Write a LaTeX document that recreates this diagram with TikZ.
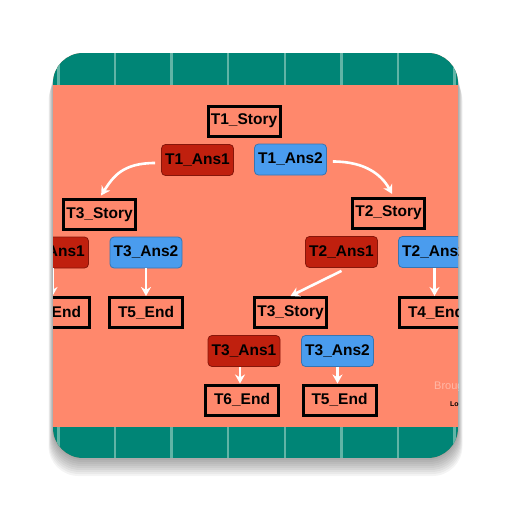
\documentclass[tikz,border=0pt]{standalone}
\usepackage{fontspec}
\setmainfont{Liberation Sans}
\usetikzlibrary{arrows.meta}

\definecolor{salmon}{RGB}{255,136,108}
\definecolor{bandteal}{RGB}{0,133,118}
\definecolor{gridteal}{RGB}{96,180,166}
\definecolor{ansred}{RGB}{192,32,14}
\definecolor{ansblue}{RGB}{74,156,238}

\begin{document}
\begin{tikzpicture}[x=1pt, y=-1pt,
  boxfont/.style={font=\fontsize{15.5}{18}\selectfont\bfseries},
  storybox/.style={boxfont, draw=black, line width=3pt, fill=salmon,
    minimum width=72pt, minimum height=30pt, inner sep=0pt},
  endbox/.style={storybox, minimum width=73pt},
  redans/.style={boxfont, draw=ansred!70!black, line width=0.8pt, fill=ansred,
    rounded corners=4pt, minimum width=72pt, minimum height=31pt, inner sep=0pt},
  blueans/.style={redans, draw=ansblue!75!black, fill=ansblue},
  flow/.style={draw=white, line width=2.6pt,
    -{Stealth[length=9pt, width=10pt]}},
  gridline/.style={draw=gridteal, line width=2.5pt}]
  \useasboundingbox (0,0) rectangle (512,512);

  % soft shadow under the icon
  \foreach \d in {1,...,9}
    \fill[black, opacity=0.045, rounded corners=30pt]
      ({53-\d/2},{53+2*\d}) rectangle ({458+\d/2},{458+2*\d});

  \begin{scope}
    \clip[rounded corners=30pt] (53,53) rectangle (458,458);
    \fill[salmon] (53,53) rectangle (458,458);
    % teal bands with light grid
    \fill[bandteal] (53,53) rectangle (458,85);
    \fill[bandteal] (53,427) rectangle (458,458);
    \foreach \gx in {0,...,7} {
      \draw[gridline] ({58.4+56.6*\gx},53) -- ++(0,32);
      \draw[gridline] ({58.4+56.6*\gx},427) -- ++(0,31);
    }

    % story tree
    \node[storybox] (t1story) at (244,121) {T1\_Story};
    \node[redans]  (t1ansA) at (197.5,160) {T1\_Ans1};
    \node[blueans] (t1ansB) at (290.5,159.5) {T1\_Ans2};

    \node[storybox] (t3storyL) at (99.5,214.5) {T3\_Story};
    \node[storybox] (t2story) at (388.5,213) {T2\_Story};

    \node[redans]  (t3ansAL) at (52.5,252.5) {T3\_Ans1};
    \node[blueans] (t3ansBL) at (146,252.5) {T3\_Ans2};
    \node[redans]  (t2ansA) at (341.5,252) {T2\_Ans1};
    \node[blueans] (t2ansB) at (434.5,252) {T2\_Ans2};

    \node[endbox] (t6endL) at (53,312.5) {T6\_End};
    \node[endbox] (t5endL) at (146,312.5) {T5\_End};
    \node[storybox] (t3storyM) at (290.5,312.5) {T3\_Story};
    \node[endbox] (t4end) at (436,312.5) {T4\_End};

    \node[redans]  (t3ansA) at (244,351) {T3\_Ans1};
    \node[blueans] (t3ansB) at (337.5,351) {T3\_Ans2};
    \node[endbox] (t6end) at (242,400) {T6\_End};
    \node[endbox] (t5end) at (339.5,400) {T5\_End};

    % connectors
    \draw[flow, shorten >=3pt] ([xshift=-6pt, yshift=-3pt]t1ansA.west)
      .. controls +(-32,0) and +(14,-22) .. (t3storyL.north);
    \draw[flow, shorten >=3pt] ([xshift=6pt, yshift=-2pt]t1ansB.east)
      .. controls +(32,0) and +(-12,-22) .. ([xshift=5pt]t2story.north);
    \draw[flow] (t3ansAL.south) -- (t3ansAL.south |- t6endL.north);
    \draw[flow] (t3ansBL.south) -- (t5endL.north);
    \draw[flow] ([yshift=-3pt]t2ansA.south) -- (t3storyM.north);
    \draw[flow] (t2ansB.south) -- (t2ansB.south |- t4end.north);
    \draw[flow] ([xshift=-4pt]t3ansA.south) -- ([xshift=-4pt]t3ansA.south |- t6end.north);
    \draw[flow] (t3ansB.south) -- (t3ansB.south |- t5end.north);

    % credit text, cut by the icon edge
    \node[anchor=west, text=white, opacity=0.4, inner sep=0pt,
      font=\fontsize{11}{13}\selectfont] (credit) at (434,387) {Broug};
    \node[anchor=west, inner sep=0pt, font=\fontsize{7}{8}\selectfont\bfseries]
      (creditb) at (450,404) {Lo};
  \end{scope}
\end{tikzpicture}
\end{document}
